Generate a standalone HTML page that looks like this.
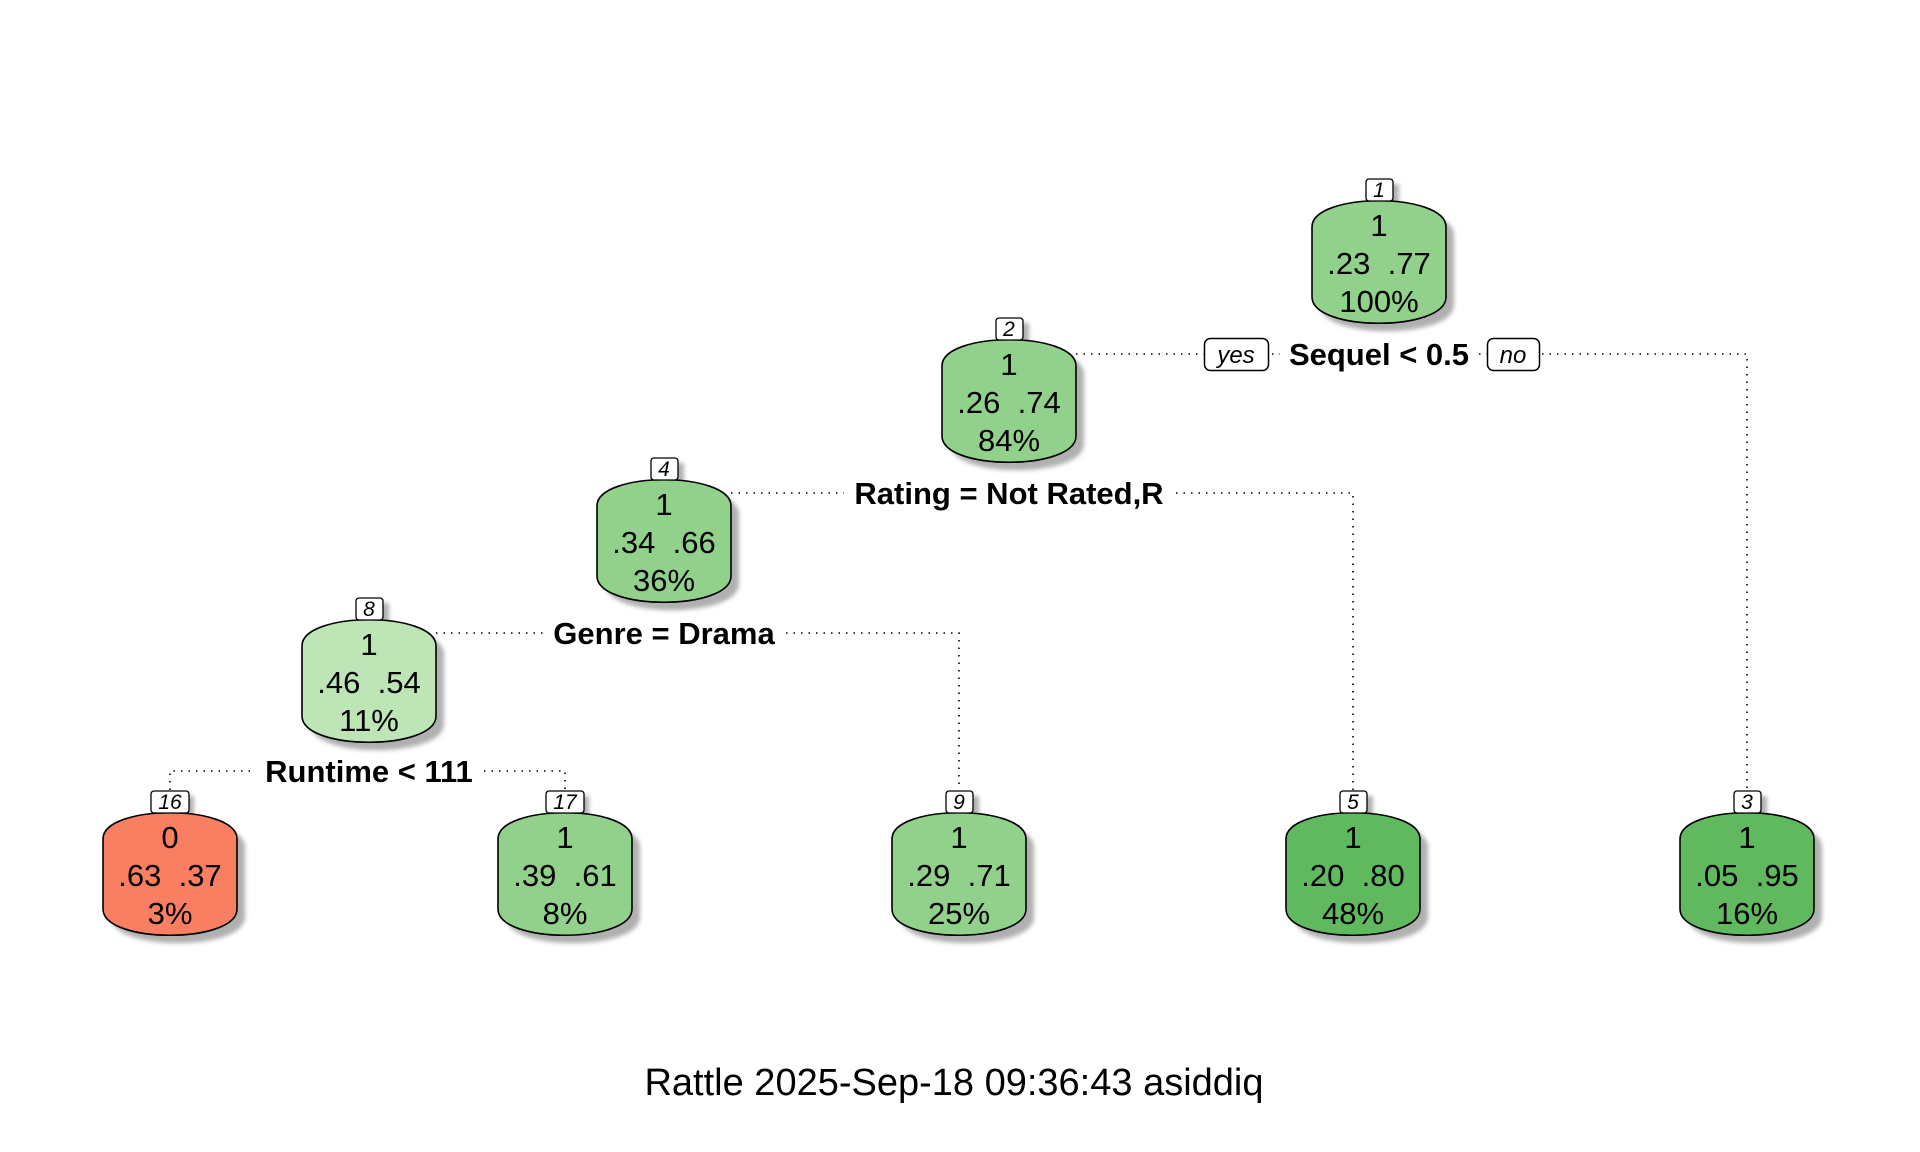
<!DOCTYPE html>
<html><head><meta charset="utf-8"><style>
html,body{margin:0;padding:0;background:#fff;}
svg{display:block;}
text{font-family:"Liberation Sans",Arial,sans-serif;}
</style></head><body>
<svg width="1920" height="1152" viewBox="0 0 1920 1152" xmlns="http://www.w3.org/2000/svg">
<defs>
<filter id="b" x="-20%" y="-20%" width="140%" height="140%"><feGaussianBlur stdDeviation="2"/></filter>
<path id="n" d="M-67,26 C-67,-9 67,-9 67,26 L67,96 C67,131 -67,131 -67,96 Z"/>
</defs>
<g fill="none" stroke="#000" stroke-width="1.6" stroke-dasharray="1.5 6">
<line x1="1076" y1="354" x2="1204" y2="354"/>
<line x1="1272" y1="354" x2="1280" y2="354"/>
<line x1="1479" y1="354" x2="1487" y2="354"/>
<polyline points="1542,354 1747,354 1747,790"/>
<line x1="731" y1="493" x2="844" y2="493"/>
<polyline points="1176,493 1353,493 1353,790"/>
<line x1="436" y1="633" x2="544" y2="633"/>
<polyline points="786,633 959,633 959,790"/>
<polyline points="170,790 170,771 254,771"/>
<polyline points="484,771 565,771 565,790"/>
</g>

<g font-size="31" font-weight="bold" text-anchor="middle">
<text x="1379" y="365">Sequel &lt; 0.5</text>
<text x="1009" y="504">Rating = Not Rated,R</text>
<text x="664" y="644">Genre = Drama</text>
<text x="369" y="782">Runtime &lt; 111</text>
</g>
<g font-size="24" font-style="italic" text-anchor="middle">
<rect x="1204.5" y="338.5" width="64" height="32" rx="6" fill="#fff" stroke="#000" stroke-width="1.5"/>
<text x="1236" y="363">yes</text>
<rect x="1487.5" y="338.5" width="52" height="32" rx="6" fill="#fff" stroke="#000" stroke-width="1.5"/>
<text x="1513" y="363">no</text>
</g>

<g fill="#b0b0b0" stroke="none" filter="url(#b)">
<use href="#n" x="1387" y="209"/>
<use href="#n" x="1017" y="348"/>
<use href="#n" x="672" y="488"/>
<use href="#n" x="377" y="628"/>
<use href="#n" x="178" y="821"/>
<use href="#n" x="573" y="821"/>
<use href="#n" x="967" y="821"/>
<use href="#n" x="1361" y="821"/>
<use href="#n" x="1755" y="821"/>
<rect x="1372" y="184" width="27" height="22"/>
<rect x="1002" y="323" width="27" height="22"/>
<rect x="657" y="463" width="27" height="22"/>
<rect x="362" y="603" width="27" height="22"/>
<rect x="156" y="796" width="38" height="22"/>
<rect x="551" y="796" width="38" height="22"/>
<rect x="952" y="796" width="27" height="22"/>
<rect x="1346" y="796" width="27" height="22"/>
<rect x="1740" y="796" width="27" height="22"/>
</g>
<g stroke="#000" stroke-width="1.6">
<use href="#n" x="1379" y="201" fill="#91d18b"/>
<use href="#n" x="1009" y="340" fill="#91d18b"/>
<use href="#n" x="664" y="480" fill="#91d18b"/>
<use href="#n" x="369" y="620" fill="#bde5b5"/>
<use href="#n" x="170" y="813" fill="#f87f61"/>
<use href="#n" x="565" y="813" fill="#91d18b"/>
<use href="#n" x="959" y="813" fill="#91d18b"/>
<use href="#n" x="1353" y="813" fill="#61b95f"/>
<use href="#n" x="1747" y="813" fill="#61b95f"/>
<g fill="#fff" stroke-width="1.3">
<rect x="1366" y="179" width="27" height="22" rx="3"/>
<rect x="996" y="318" width="27" height="22" rx="3"/>
<rect x="651" y="458" width="27" height="22" rx="3"/>
<rect x="356" y="598" width="27" height="22" rx="3"/>
<rect x="151" y="791" width="38" height="22" rx="3"/>
<rect x="546" y="791" width="38" height="22" rx="3"/>
<rect x="946" y="791" width="27" height="22" rx="3"/>
<rect x="1340" y="791" width="27" height="22" rx="3"/>
<rect x="1734" y="791" width="27" height="22" rx="3"/>
</g>
</g>
<g font-size="21" font-style="italic" text-anchor="middle">
<text x="1379" y="197">1</text>
<text x="1009" y="336">2</text>
<text x="664" y="476">4</text>
<text x="369" y="616">8</text>
<text x="170" y="809">16</text>
<text x="565" y="809">17</text>
<text x="959" y="809">9</text>
<text x="1353" y="809">5</text>
<text x="1747" y="809">3</text>
</g>
<g font-size="31" text-anchor="middle">
<text x="1379" y="236">1</text><text x="1379" y="274">.23 &#160;.77</text><text x="1379" y="312">100%</text>
<text x="1009" y="375">1</text><text x="1009" y="413">.26 &#160;.74</text><text x="1009" y="451">84%</text>
<text x="664" y="515">1</text><text x="664" y="553">.34 &#160;.66</text><text x="664" y="591">36%</text>
<text x="369" y="655">1</text><text x="369" y="693">.46 &#160;.54</text><text x="369" y="731">11%</text>
<text x="170" y="848">0</text><text x="170" y="886">.63 &#160;.37</text><text x="170" y="924">3%</text>
<text x="565" y="848">1</text><text x="565" y="886">.39 &#160;.61</text><text x="565" y="924">8%</text>
<text x="959" y="848">1</text><text x="959" y="886">.29 &#160;.71</text><text x="959" y="924">25%</text>
<text x="1353" y="848">1</text><text x="1353" y="886">.20 &#160;.80</text><text x="1353" y="924">48%</text>
<text x="1747" y="848">1</text><text x="1747" y="886">.05 &#160;.95</text><text x="1747" y="924">16%</text>
</g>
<text x="954" y="1095" font-size="38" text-anchor="middle">Rattle 2025-Sep-18 09:36:43 asiddiq</text>
</svg>
</body></html>
